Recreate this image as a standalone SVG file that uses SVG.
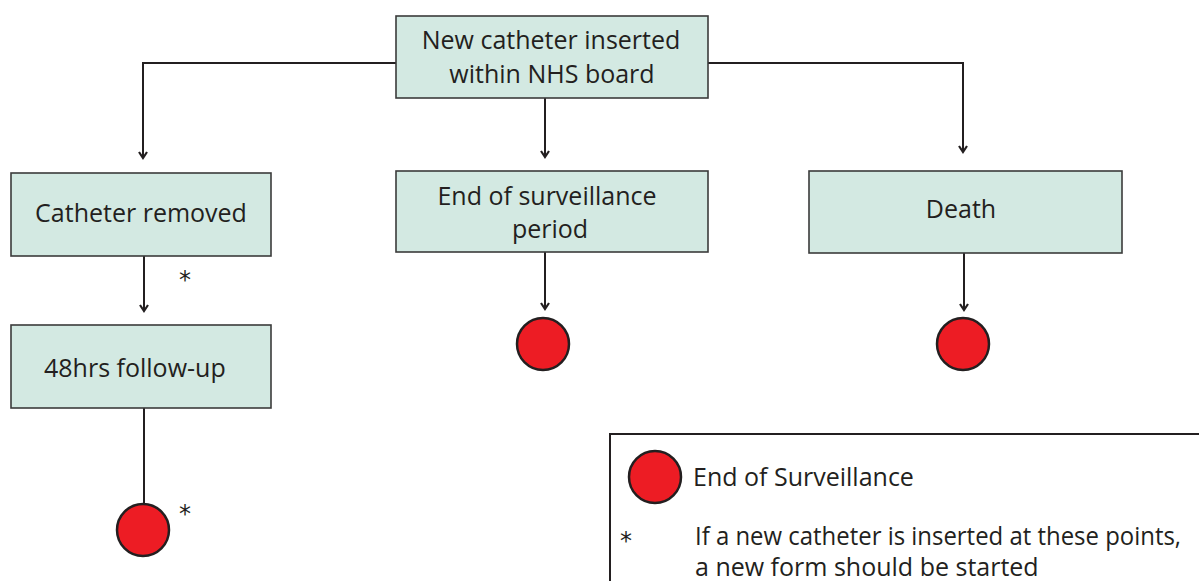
<svg xmlns="http://www.w3.org/2000/svg" width="1199" height="581" viewBox="0 0 1199 581">
<defs>
<style>
.box{fill:#d3e9e2;stroke:#3b3b3b;stroke-width:1.6}
.t{font-family:"Open Sans","Noto Sans","Liberation Sans",sans-serif;font-size:25px;fill:#231f20}
.tc{text-anchor:middle}
.ln{fill:none;stroke:#231f20;stroke-width:2}
.end{fill:#ed1c24;stroke:#231f20;stroke-width:2.5}
.ast{font-family:"DejaVu Sans","Liberation Sans",sans-serif;font-size:24px;fill:#231f20}
</style>
</defs>
<rect width="1199" height="581" fill="#ffffff"/>
<g id="connectors">
<path class="ln" d="M396,63 H143 V157"/>
<path class="ln" d="M708,63 H963 V151"/>
<path class="ln" d="M545,98 V156"/>
<path class="ln" d="M144,256 V310"/>
<path class="ln" d="M144,408 V503"/>
<path class="ln" d="M545,252 V308"/>
<path class="ln" d="M964,253 V309"/>
<g fill="none" stroke="#231f20" stroke-width="2.2">
<path d="M139,152 L143,158 L147,152"/>
<path d="M959,146 L963,152 L967,146"/>
<path d="M541,151 L545,157 L549,151"/>
<path d="M140,305 L144,311 L148,305"/>
<path d="M541,303 L545,309 L549,303"/>
<path d="M960,304 L964,310 L968,304"/>
</g>
</g>
<g id="n-new">
<rect class="box" x="396" y="16" width="312" height="82"/>
<text class="t tc" x="551" y="49">New catheter inserted</text>
<text class="t tc" x="552" y="83">within NHS board</text>
</g>
<g id="n-removed">
<rect class="box" x="11" y="173" width="260" height="83"/>
<text class="t tc" x="141" y="222">Catheter removed</text>
</g>
<g id="n-endperiod">
<rect class="box" x="396" y="171" width="312" height="81"/>
<text class="t tc" x="547" y="205">End of surveillance</text>
<text class="t tc" x="550" y="238">period</text>
</g>
<g id="n-death">
<rect class="box" x="809" y="171" width="313" height="82"/>
<text class="t tc" x="961" y="218">Death</text>
</g>
<g id="n-48hrs">
<rect class="box" x="11" y="325" width="260" height="83"/>
<text class="t" x="44" y="377">48hrs follow-up</text>
</g>
<g id="end-48hrs"><circle class="end" cx="143" cy="530" r="26"/></g>
<g id="end-period"><circle class="end" cx="543" cy="344" r="26"/></g>
<g id="end-death"><circle class="end" cx="963" cy="344" r="26"/></g>
<text class="ast" x="179" y="288">*</text>
<text class="ast" x="179" y="522">*</text>
<g id="legend">
<rect x="610" y="434" width="620" height="200" fill="#ffffff" stroke="#231f20" stroke-width="2"/>
<circle class="end" cx="655" cy="477" r="26"/>
<text class="t" x="693" y="486" font-size="24">End of Surveillance</text>
<text class="ast" x="620" y="549" font-size="22">*</text>
<text class="t" x="695" y="545" font-size="23" textLength="486" lengthAdjust="spacingAndGlyphs">If a new catheter is inserted at these points,</text>
<text class="t" x="695" y="576" font-size="23.5">a new form should be started</text>
</g>
</svg>
